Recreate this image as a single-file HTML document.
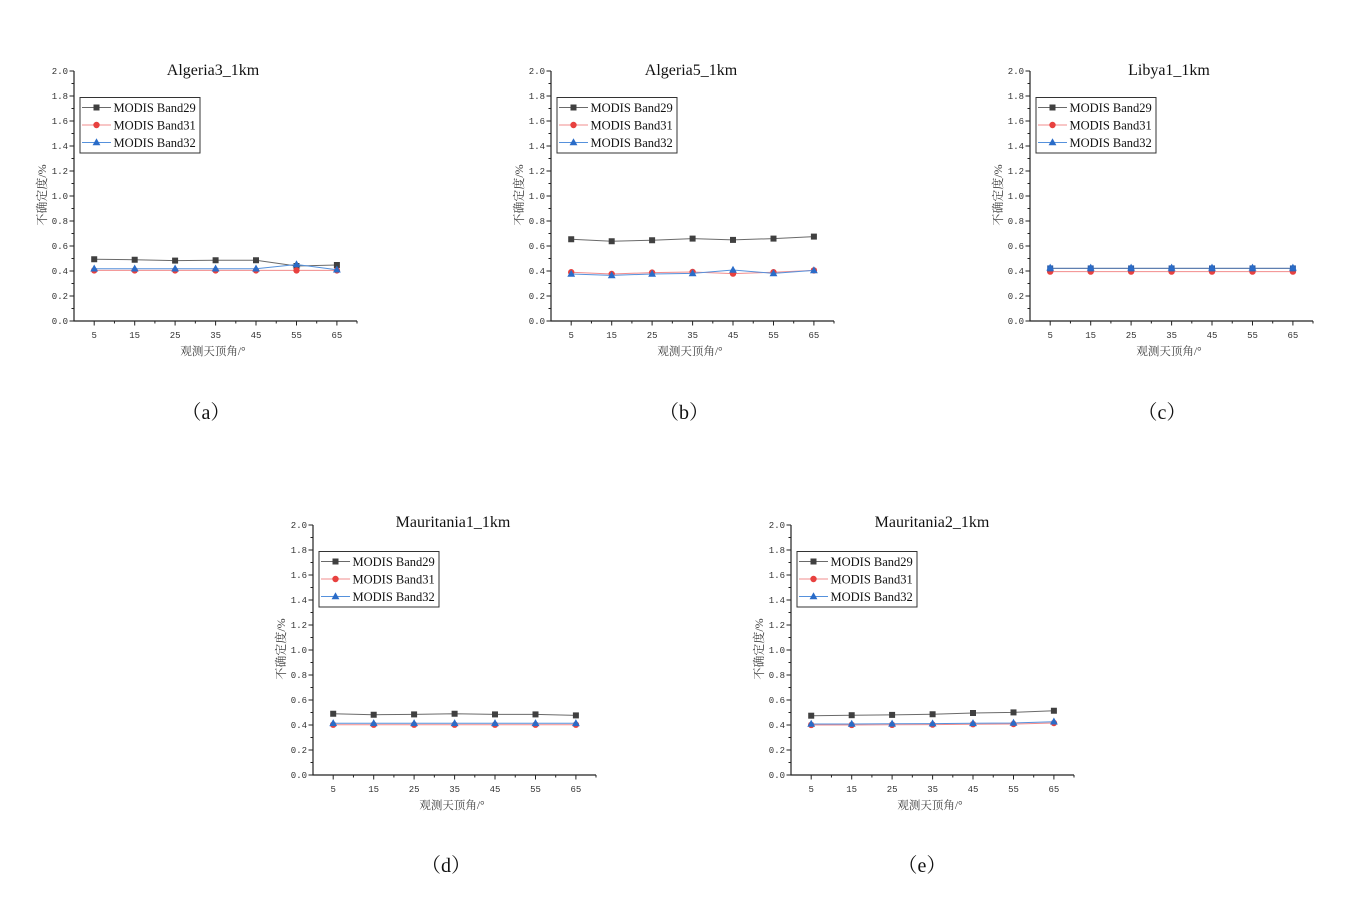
<!DOCTYPE html>
<html><head><meta charset="utf-8"><style>
html,body{margin:0;padding:0;background:#fff;}
svg{display:block;}
.tl{font-family:"Liberation Mono","DejaVu Sans Mono",monospace;font-size:9px;fill:#333;}
.ti{font-family:"Liberation Serif",serif;font-size:16px;fill:#111;}
.lg{font-family:"Liberation Serif",serif;font-size:12.5px;fill:#111;}
.al{font-family:"Liberation Serif","Noto Serif CJK SC",serif;fill:#444;}
.cap{font-family:"Liberation Serif","Noto Serif CJK SC",serif;font-size:20px;fill:#111;}
</style></head><body>
<svg width="1372" height="908" viewBox="0 0 1372 908" xmlns="http://www.w3.org/2000/svg">
<defs>
<rect id="sq" x="-3" y="-3" width="6" height="6" fill="#404040"/>
<circle id="ci" r="3.2" fill="#e8413f"/>
<path id="tr" d="M0 -4.2 L3.9 2.8 L-3.9 2.8Z" fill="#2a6cc8"/>
<g id="ax">
<path d="M0 -250V0H283" fill="none" stroke="#222" stroke-width="1.2"/>
<path d="M-4.5 0H0M-4.5 -25H0M-4.5 -50H0M-4.5 -75H0M-4.5 -100H0M-4.5 -125H0M-4.5 -150H0M-4.5 -175H0M-4.5 -200H0M-4.5 -225H0M-4.5 -250H0
M-2.5 -12.5H0M-2.5 -37.5H0M-2.5 -62.5H0M-2.5 -87.5H0M-2.5 -112.5H0M-2.5 -137.5H0M-2.5 -162.5H0M-2.5 -187.5H0M-2.5 -212.5H0M-2.5 -237.5H0
M20.2 0V4.5M60.7 0V4.5M101.1 0V4.5M141.6 0V4.5M182 0V4.5M222.5 0V4.5M262.9 0V4.5
M40.45 0V2.5M80.9 0V2.5M121.35 0V2.5M161.8 0V2.5M202.25 0V2.5M242.7 0V2.5M283 0V2.5" stroke="#222" stroke-width="1" fill="none"/>
<rect x="6" y="-223.5" width="120" height="55.5" fill="#fff" stroke="#333" stroke-width="1"/>
<path d="M8 -213.5H37" stroke="#6a6a6a" stroke-width="1"/>
<path d="M8 -196H37" stroke="#f28c8c" stroke-width="1"/>
<path d="M8 -178.5H37" stroke="#5591dc" stroke-width="1"/>
<use href="#sq" x="22.5" y="-213.5"/>
<use href="#ci" x="22.5" y="-196"/>
<use href="#tr" x="22.5" y="-178.5"/>
</g>
</defs>

<!-- (a) -->
<g transform="translate(74,321)">
<use href="#ax"/>
<text class="tl" text-anchor="end"><tspan x="-6" y="3.2">0.0</tspan><tspan x="-6" y="-21.8">0.2</tspan><tspan x="-6" y="-46.8">0.4</tspan><tspan x="-6" y="-71.8">0.6</tspan><tspan x="-6" y="-96.8">0.8</tspan><tspan x="-6" y="-121.8">1.0</tspan><tspan x="-6" y="-146.8">1.2</tspan><tspan x="-6" y="-171.8">1.4</tspan><tspan x="-6" y="-196.8">1.6</tspan><tspan x="-6" y="-221.8">1.8</tspan><tspan x="-6" y="-246.8">2.0</tspan></text>
<text class="tl" text-anchor="middle"><tspan x="20.2" y="17">5</tspan><tspan x="60.7" y="17">15</tspan><tspan x="101.1" y="17">25</tspan><tspan x="141.6" y="17">35</tspan><tspan x="182" y="17">45</tspan><tspan x="222.5" y="17">55</tspan><tspan x="262.9" y="17">65</tspan></text>
<text class="ti" x="139" y="-246" text-anchor="middle">Algeria3_1km</text>
<text class="lg" x="39.5" y="-209">MODIS Band29</text>
<text class="lg" x="39.5" y="-191.5">MODIS Band31</text>
<text class="lg" x="39.5" y="-174">MODIS Band32</text>
<text class="al" x="139" y="34" text-anchor="middle" font-size="11.5">观测天顶角/°</text>
<text class="al" transform="translate(-28,-126) rotate(-90)" text-anchor="middle" font-size="12">不确定度/%</text>
<polyline fill="none" stroke="#6a6a6a" stroke-width="1" points="20.2,-61.75 60.7,-61.25 101.1,-60.4 141.6,-60.75 182,-60.75 222.5,-55 262.9,-56"/>
<use href="#sq" x="20.2" y="-61.75"/><use href="#sq" x="60.7" y="-61.25"/><use href="#sq" x="101.1" y="-60.4"/><use href="#sq" x="141.6" y="-60.75"/><use href="#sq" x="182" y="-60.75"/><use href="#sq" x="222.5" y="-55"/><use href="#sq" x="262.9" y="-56"/>
<polyline fill="none" stroke="#f28c8c" stroke-width="1" points="20.2,-50.6 60.7,-50.6 101.1,-50.6 141.6,-50.6 182,-50.6 222.5,-50.6 262.9,-50.6"/>
<use href="#ci" x="20.2" y="-50.6"/><use href="#ci" x="60.7" y="-50.6"/><use href="#ci" x="101.1" y="-50.6"/><use href="#ci" x="141.6" y="-50.6"/><use href="#ci" x="182" y="-50.6"/><use href="#ci" x="222.5" y="-50.6"/><use href="#ci" x="262.9" y="-50.6"/>
<polyline fill="none" stroke="#5591dc" stroke-width="1" points="20.2,-52.25 60.7,-52.25 101.1,-52.25 141.6,-52.25 182,-52.25 222.5,-56.5 262.9,-51.25"/>
<use href="#tr" x="20.2" y="-52.25"/><use href="#tr" x="60.7" y="-52.25"/><use href="#tr" x="101.1" y="-52.25"/><use href="#tr" x="141.6" y="-52.25"/><use href="#tr" x="182" y="-52.25"/><use href="#tr" x="222.5" y="-56.5"/><use href="#tr" x="262.9" y="-51.25"/>
</g>

<!-- (b) -->
<g transform="translate(551,321)">
<use href="#ax"/>
<text class="tl" text-anchor="end"><tspan x="-6" y="3.2">0.0</tspan><tspan x="-6" y="-21.8">0.2</tspan><tspan x="-6" y="-46.8">0.4</tspan><tspan x="-6" y="-71.8">0.6</tspan><tspan x="-6" y="-96.8">0.8</tspan><tspan x="-6" y="-121.8">1.0</tspan><tspan x="-6" y="-146.8">1.2</tspan><tspan x="-6" y="-171.8">1.4</tspan><tspan x="-6" y="-196.8">1.6</tspan><tspan x="-6" y="-221.8">1.8</tspan><tspan x="-6" y="-246.8">2.0</tspan></text>
<text class="tl" text-anchor="middle"><tspan x="20.2" y="17">5</tspan><tspan x="60.7" y="17">15</tspan><tspan x="101.1" y="17">25</tspan><tspan x="141.6" y="17">35</tspan><tspan x="182" y="17">45</tspan><tspan x="222.5" y="17">55</tspan><tspan x="262.9" y="17">65</tspan></text>
<text class="ti" x="140" y="-246" text-anchor="middle">Algeria5_1km</text>
<text class="lg" x="39.5" y="-209">MODIS Band29</text>
<text class="lg" x="39.5" y="-191.5">MODIS Band31</text>
<text class="lg" x="39.5" y="-174">MODIS Band32</text>
<text class="al" x="139" y="34" text-anchor="middle" font-size="11.5">观测天顶角/°</text>
<text class="al" transform="translate(-28,-126) rotate(-90)" text-anchor="middle" font-size="12">不确定度/%</text>
<polyline fill="none" stroke="#6a6a6a" stroke-width="1" points="20.2,-81.75 60.7,-79.75 101.1,-80.75 141.6,-82.4 182,-81.1 222.5,-82.4 262.9,-84.4"/>
<use href="#sq" x="20.2" y="-81.75"/><use href="#sq" x="60.7" y="-79.75"/><use href="#sq" x="101.1" y="-80.75"/><use href="#sq" x="141.6" y="-82.4"/><use href="#sq" x="182" y="-81.1"/><use href="#sq" x="222.5" y="-82.4"/><use href="#sq" x="262.9" y="-84.4"/>
<polyline fill="none" stroke="#f28c8c" stroke-width="1" points="20.2,-48.75 60.7,-47 101.1,-48.4 141.6,-49 182,-47.4 222.5,-48.75 262.9,-50.6"/>
<use href="#ci" x="20.2" y="-48.75"/><use href="#ci" x="60.7" y="-47"/><use href="#ci" x="101.1" y="-48.4"/><use href="#ci" x="141.6" y="-49"/><use href="#ci" x="182" y="-47.4"/><use href="#ci" x="222.5" y="-48.75"/><use href="#ci" x="262.9" y="-50.6"/>
<polyline fill="none" stroke="#5591dc" stroke-width="1" points="20.2,-47 60.7,-45.6 101.1,-47 141.6,-47.6 182,-51 222.5,-47.6 262.9,-50.6"/>
<use href="#tr" x="20.2" y="-47"/><use href="#tr" x="60.7" y="-45.6"/><use href="#tr" x="101.1" y="-47"/><use href="#tr" x="141.6" y="-47.6"/><use href="#tr" x="182" y="-51"/><use href="#tr" x="222.5" y="-47.6"/><use href="#tr" x="262.9" y="-50.6"/>
</g>

<!-- (c) -->
<g transform="translate(1030,321)">
<use href="#ax"/>
<text class="tl" text-anchor="end"><tspan x="-6" y="3.2">0.0</tspan><tspan x="-6" y="-21.8">0.2</tspan><tspan x="-6" y="-46.8">0.4</tspan><tspan x="-6" y="-71.8">0.6</tspan><tspan x="-6" y="-96.8">0.8</tspan><tspan x="-6" y="-121.8">1.0</tspan><tspan x="-6" y="-146.8">1.2</tspan><tspan x="-6" y="-171.8">1.4</tspan><tspan x="-6" y="-196.8">1.6</tspan><tspan x="-6" y="-221.8">1.8</tspan><tspan x="-6" y="-246.8">2.0</tspan></text>
<text class="tl" text-anchor="middle"><tspan x="20.2" y="17">5</tspan><tspan x="60.7" y="17">15</tspan><tspan x="101.1" y="17">25</tspan><tspan x="141.6" y="17">35</tspan><tspan x="182" y="17">45</tspan><tspan x="222.5" y="17">55</tspan><tspan x="262.9" y="17">65</tspan></text>
<text class="ti" x="139" y="-246" text-anchor="middle">Libya1_1km</text>
<text class="lg" x="39.5" y="-209">MODIS Band29</text>
<text class="lg" x="39.5" y="-191.5">MODIS Band31</text>
<text class="lg" x="39.5" y="-174">MODIS Band32</text>
<text class="al" x="139" y="34" text-anchor="middle" font-size="11.5">观测天顶角/°</text>
<text class="al" transform="translate(-28,-126) rotate(-90)" text-anchor="middle" font-size="12">不确定度/%</text>
<polyline fill="none" stroke="#f28c8c" stroke-width="1" points="20.2,-49.4 262.9,-49.4"/>
<use href="#ci" x="20.2" y="-49.4"/><use href="#ci" x="60.7" y="-49.4"/><use href="#ci" x="101.1" y="-49.4"/><use href="#ci" x="141.6" y="-49.4"/><use href="#ci" x="182" y="-49.4"/><use href="#ci" x="222.5" y="-49.4"/><use href="#ci" x="262.9" y="-49.4"/>
<polyline fill="none" stroke="#5f7fb0" stroke-width="1.2" points="20.2,-52.6 262.9,-52.6"/>
<g fill="#2f5ea8">
<rect x="17.2" y="-55.6" width="6" height="6"/><rect x="57.7" y="-55.6" width="6" height="6"/><rect x="98.1" y="-55.6" width="6" height="6"/><rect x="138.6" y="-55.6" width="6" height="6"/><rect x="179" y="-55.6" width="6" height="6"/><rect x="219.5" y="-55.6" width="6" height="6"/><rect x="259.9" y="-55.6" width="6" height="6"/>
</g>
<use href="#tr" x="20.2" y="-53.2"/><use href="#tr" x="60.7" y="-53.2"/><use href="#tr" x="101.1" y="-53.2"/><use href="#tr" x="141.6" y="-53.2"/><use href="#tr" x="182" y="-53.2"/><use href="#tr" x="222.5" y="-53.2"/><use href="#tr" x="262.9" y="-53.2"/>
</g>

<!-- (d) -->
<g transform="translate(313,775)">
<use href="#ax"/>
<text class="tl" text-anchor="end"><tspan x="-6" y="3.2">0.0</tspan><tspan x="-6" y="-21.8">0.2</tspan><tspan x="-6" y="-46.8">0.4</tspan><tspan x="-6" y="-71.8">0.6</tspan><tspan x="-6" y="-96.8">0.8</tspan><tspan x="-6" y="-121.8">1.0</tspan><tspan x="-6" y="-146.8">1.2</tspan><tspan x="-6" y="-171.8">1.4</tspan><tspan x="-6" y="-196.8">1.6</tspan><tspan x="-6" y="-221.8">1.8</tspan><tspan x="-6" y="-246.8">2.0</tspan></text>
<text class="tl" text-anchor="middle"><tspan x="20.2" y="17">5</tspan><tspan x="60.7" y="17">15</tspan><tspan x="101.1" y="17">25</tspan><tspan x="141.6" y="17">35</tspan><tspan x="182" y="17">45</tspan><tspan x="222.5" y="17">55</tspan><tspan x="262.9" y="17">65</tspan></text>
<text class="ti" x="140" y="-248" text-anchor="middle">Mauritania1_1km</text>
<text class="lg" x="39.5" y="-209">MODIS Band29</text>
<text class="lg" x="39.5" y="-191.5">MODIS Band31</text>
<text class="lg" x="39.5" y="-174">MODIS Band32</text>
<text class="al" x="139" y="34" text-anchor="middle" font-size="11.5">观测天顶角/°</text>
<text class="al" transform="translate(-28,-126) rotate(-90)" text-anchor="middle" font-size="12">不确定度/%</text>
<polyline fill="none" stroke="#6a6a6a" stroke-width="1" points="20.2,-61.25 60.7,-60.25 101.1,-60.6 141.6,-61.25 182,-60.6 222.5,-60.6 262.9,-59.6"/>
<use href="#sq" x="20.2" y="-61.25"/><use href="#sq" x="60.7" y="-60.25"/><use href="#sq" x="101.1" y="-60.6"/><use href="#sq" x="141.6" y="-61.25"/><use href="#sq" x="182" y="-60.6"/><use href="#sq" x="222.5" y="-60.6"/><use href="#sq" x="262.9" y="-59.6"/>
<polyline fill="none" stroke="#f28c8c" stroke-width="1" points="20.2,-50.3 262.9,-50.3"/>
<use href="#ci" x="20.2" y="-50.3"/><use href="#ci" x="60.7" y="-50.3"/><use href="#ci" x="101.1" y="-50.3"/><use href="#ci" x="141.6" y="-50.3"/><use href="#ci" x="182" y="-50.3"/><use href="#ci" x="222.5" y="-50.3"/><use href="#ci" x="262.9" y="-50.3"/>
<polyline fill="none" stroke="#5591dc" stroke-width="1" points="20.2,-51.7 262.9,-51.7"/>
<use href="#tr" x="20.2" y="-51.7"/><use href="#tr" x="60.7" y="-51.7"/><use href="#tr" x="101.1" y="-51.7"/><use href="#tr" x="141.6" y="-51.7"/><use href="#tr" x="182" y="-51.7"/><use href="#tr" x="222.5" y="-51.7"/><use href="#tr" x="262.9" y="-51.7"/>
</g>

<!-- (e) -->
<g transform="translate(791,775)">
<use href="#ax"/>
<text class="tl" text-anchor="end"><tspan x="-6" y="3.2">0.0</tspan><tspan x="-6" y="-21.8">0.2</tspan><tspan x="-6" y="-46.8">0.4</tspan><tspan x="-6" y="-71.8">0.6</tspan><tspan x="-6" y="-96.8">0.8</tspan><tspan x="-6" y="-121.8">1.0</tspan><tspan x="-6" y="-146.8">1.2</tspan><tspan x="-6" y="-171.8">1.4</tspan><tspan x="-6" y="-196.8">1.6</tspan><tspan x="-6" y="-221.8">1.8</tspan><tspan x="-6" y="-246.8">2.0</tspan></text>
<text class="tl" text-anchor="middle"><tspan x="20.2" y="17">5</tspan><tspan x="60.7" y="17">15</tspan><tspan x="101.1" y="17">25</tspan><tspan x="141.6" y="17">35</tspan><tspan x="182" y="17">45</tspan><tspan x="222.5" y="17">55</tspan><tspan x="262.9" y="17">65</tspan></text>
<text class="ti" x="141" y="-248" text-anchor="middle">Mauritania2_1km</text>
<text class="lg" x="39.5" y="-209">MODIS Band29</text>
<text class="lg" x="39.5" y="-191.5">MODIS Band31</text>
<text class="lg" x="39.5" y="-174">MODIS Band32</text>
<text class="al" x="139" y="34" text-anchor="middle" font-size="11.5">观测天顶角/°</text>
<text class="al" transform="translate(-28,-126) rotate(-90)" text-anchor="middle" font-size="12">不确定度/%</text>
<polyline fill="none" stroke="#6a6a6a" stroke-width="1" points="20.2,-59.3 60.7,-59.8 101.1,-60.1 141.6,-60.75 182,-62 222.5,-62.6 262.9,-64.25"/>
<use href="#sq" x="20.2" y="-59.3"/><use href="#sq" x="60.7" y="-59.8"/><use href="#sq" x="101.1" y="-60.1"/><use href="#sq" x="141.6" y="-60.75"/><use href="#sq" x="182" y="-62"/><use href="#sq" x="222.5" y="-62.6"/><use href="#sq" x="262.9" y="-64.25"/>
<polyline fill="none" stroke="#f28c8c" stroke-width="1" points="20.2,-50.05 60.7,-50.05 101.1,-50.2 141.6,-50.4 182,-50.8 222.5,-51 262.9,-52"/>
<use href="#ci" x="20.2" y="-50.05"/><use href="#ci" x="60.7" y="-50.05"/><use href="#ci" x="101.1" y="-50.2"/><use href="#ci" x="141.6" y="-50.4"/><use href="#ci" x="182" y="-50.8"/><use href="#ci" x="222.5" y="-51"/><use href="#ci" x="262.9" y="-52"/>
<polyline fill="none" stroke="#5591dc" stroke-width="1" points="20.2,-51 60.7,-51 101.1,-51.2 141.6,-51.4 182,-51.7 222.5,-52 262.9,-53.3"/>
<use href="#tr" x="20.2" y="-51"/><use href="#tr" x="60.7" y="-51"/><use href="#tr" x="101.1" y="-51.2"/><use href="#tr" x="141.6" y="-51.4"/><use href="#tr" x="182" y="-51.7"/><use href="#tr" x="222.5" y="-52"/><use href="#tr" x="262.9" y="-53.3"/>
</g>

<!-- captions -->
<text class="cap" x="206" y="419" text-anchor="middle">（a）</text>
<text class="cap" x="684" y="419" text-anchor="middle">（b）</text>
<text class="cap" x="1162" y="419" text-anchor="middle">（c）</text>
<text class="cap" x="446" y="872" text-anchor="middle">（d）</text>
<text class="cap" x="922" y="872" text-anchor="middle">（e）</text>
</svg>
</body></html>
